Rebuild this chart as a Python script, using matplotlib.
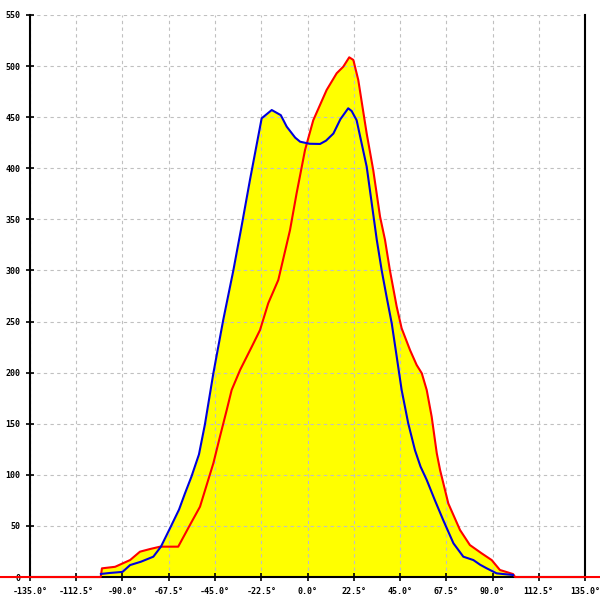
import numpy as np
import matplotlib.pyplot as plt

# blue profile
blue_x = [-100.5, -96, -90, -86.3, -81, -75, -71.3, -66.9, -62.5, -59.6, -56.5, -52.8, -49.9,
          -45.8, -41, -36.1, -32.4, -28, -22.3, -17.4, -13, -10.1, -6, -3.6, 1, 6.1, 9, 12.6,
          16, 19.8, 21.5, 23.9, 28.8, 33.7, 36.1, 38.5, 41, 43.4, 45.8, 49, 52.3, 55, 58, 62,
          66, 71, 75.8, 80.7, 84, 87.2, 92, 95.3, 100]
blue_y = [3, 4, 5, 11.7, 15, 19.9, 29.7, 47.7, 66, 81.9, 98, 120, 149.4,
          199.4, 251.5, 299.8, 339.6, 388.5, 448.9, 457, 452, 440.7, 430, 426, 424, 423.8, 427, 434,
          448, 458.7, 456, 447, 401.5, 330, 300, 274, 248, 215.6, 183, 150.4, 124, 108, 95, 75,
          55.8, 33, 19.9, 16.6, 12, 8.5, 3.6, 2.9, 2]

# red profile
red_x = [-150, -100.6, -100, -93.6, -86.3, -81.5, -76.6, -71.7, -62.9, -57.2, -52.3, -48.3,
         -45.8, -42.6, -39.3, -36.9, -32.8, -27.1, -23.1, -19.1, -14.2, -8.5, -5.3, -1.2, 2.8,
         9.3, 14.2, 17.4, 20.3, 22.3, 24.7, 28.8, 32, 35.3, 37.7, 40.1, 43.4, 45.8, 49.9, 53.1,
         55.6, 58, 60.4, 62.9, 64.5, 68.5, 74.2, 79, 84.7, 89.6, 93.6, 100, 101, 150]
red_y = [0, 0, 8.5, 10, 16.6, 24.8, 27.4, 29.7, 29.7, 50.9, 68.8, 95,
         111.3, 137.3, 163.4, 183, 202.6, 225.4, 241.7, 267.9, 290.7, 339.6, 375.5, 417.9, 447,
         476.6, 493, 499.4, 508.6, 506, 486.4, 434, 398, 352.6, 330, 300, 264.5, 243.4, 222, 207.5,
         199.4, 183, 157, 121, 104.7, 72, 46, 31.3, 23.2, 16.6, 6.9, 2.9, 0, 0]

x_ticks = np.arange(-135, 135.1, 22.5)
y_ticks = np.arange(0, 551, 50)

fig = plt.figure(figsize=(6, 6), dpi=100)
ax = fig.add_axes([0.05, 0.0383, 0.925, 0.9367])

ax.fill_between(blue_x, 0, blue_y, color='#ffff00', lw=0, zorder=1)
ax.fill_between(red_x, 0, red_y, color='#ffff00', lw=0, zorder=1)
ax.plot(red_x, red_y, color='#ff0000', lw=1.5, zorder=3, clip_on=False)
ax.plot(blue_x, blue_y, color='#0000dd', lw=1.5, zorder=3)

ax.set_xlim(-135, 135)
ax.set_ylim(0, 550)
ax.set_xticks(x_ticks)
ax.set_xticklabels(['%.1f°' % v for v in x_ticks])
ax.set_yticks(y_ticks)
ax.set_yticklabels([str(v) for v in y_ticks])
ax.grid(True, color='#c0c0c0', linestyle=(0, (3, 3)), lw=0.8, zorder=0)

ax.spines['top'].set_visible(False)
for s in ['left', 'right', 'bottom']:
    ax.spines[s].set_color('black')
    ax.spines[s].set_linewidth(1.5)
ax.tick_params(direction='inout', length=6, width=1.2, labelsize=6, pad=4)
for lbl in ax.get_xticklabels() + ax.get_yticklabels():
    lbl.set_family('DejaVu Sans Mono')
    lbl.set_weight('bold')

fig.savefig('out.png', dpi=100)
